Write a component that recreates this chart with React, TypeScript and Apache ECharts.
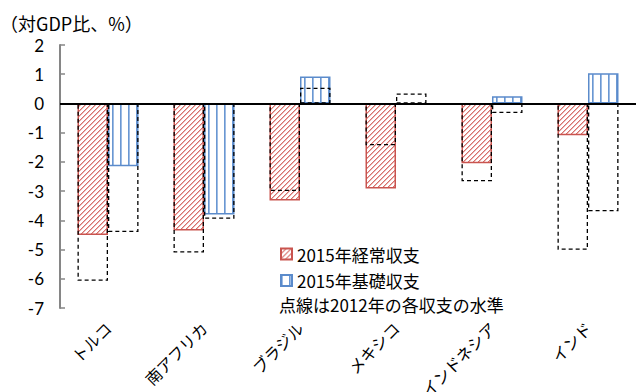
import React, { useEffect, useRef } from 'react';
import * as echarts from 'echarts';

const categories = ['トルコ', '南アフリカ', 'ブラジル', 'メキシコ', 'インドネシア', 'インド'];
const current2015 = [-4.5, -4.35, -3.32, -2.91, -2.05, -1.09];
const basic2015 = [-2.15, -3.8, 0.92, -0.05, 0.25, 1.03];
const current2012 = [-6.07, -5.1, -3.0, -1.43, -2.66, -5.01];
const basic2012 = [-4.4, -3.95, 0.54, 0.34, -0.33, -3.69];

const seriesNames = ['2015年経常収支', '2015年基礎収支'];
const unitLabel = '（対GDP比、%）';
const noteLabel = '点線は2012年の各収支の水準';
const yMin = -7;
const yMax = 2;
const yInterval = 1;

const JP = '"Noto Sans CJK JP", "Noto Sans", sans-serif';

function hatchTile(): HTMLCanvasElement {
  const n = 5;
  const c = document.createElement('canvas');
  c.width = n;
  c.height = n;
  const ctx = c.getContext('2d')!;
  ctx.fillStyle = '#ffffff';
  ctx.fillRect(0, 0, n, n);
  for (let x = 0; x < n; x++) {
    const y = n - 1 - x;
    ctx.fillStyle = '#D6726E';
    ctx.fillRect(x, y, 1, 1);
    ctx.fillStyle = '#EDB3B0';
    ctx.fillRect(x, (y + 1) % n, 1, 1);
  }
  return c;
}

function stripeTile(): HTMLCanvasElement {
  const w = 8;
  const h = 4;
  const c = document.createElement('canvas');
  c.width = w;
  c.height = h;
  const ctx = c.getContext('2d')!;
  ctx.fillStyle = '#ffffff';
  ctx.fillRect(0, 0, w, h);
  ctx.fillStyle = '#6A97D2';
  ctx.fillRect(0, 0, 1, h);
  ctx.fillStyle = '#9DBBE3';
  ctx.fillRect(1, 0, 1, h);
  return c;
}

export default function App() {
  const ref = useRef<HTMLDivElement>(null);

  useEffect(() => {
    if (!ref.current) return;
    const chart = echarts.init(ref.current, null, { renderer: 'svg' });
    const hatch = hatchTile();
    const stripes = stripeTile();
    const barW = 30.5;

    const dashedStyle = {
      color: 'rgba(0,0,0,0)',
      borderColor: '#000000',
      borderWidth: 1.3,
      borderType: [4, 3] as any,
    };

    chart.setOption({
      animation: false,
      backgroundColor: '#ffffff',
      grid: { left: 60, right: 0, top: 45, bottom: 84, containLabel: false, outerBoundsMode: 'none' } as any,
      legend: {
        orient: 'vertical',
        left: 275,
        top: 240,
        icon: 'rect',
        itemWidth: 11,
        itemHeight: 11,
        itemGap: 8.5,
        data: seriesNames,
        textStyle: { fontSize: 17, lineHeight: 18, fontFamily: JP, color: '#000' },
        selectedMode: false,
      },
      graphic: [
        {
          type: 'text',
          x: 0,
          y: 23,
          style: { text: unitLabel, fontSize: 18, fontFamily: JP, fill: '#000', verticalAlign: 'middle' },
        },
        {
          type: 'text',
          x: 279,
          y: 304,
          style: { text: noteLabel, fontSize: 17, lineHeight: 18, fontFamily: JP, fill: '#000', verticalAlign: 'middle' },
        },
      ],
      xAxis: [
        {
          type: 'category',
          data: categories,
          axisLine: { show: false },
          axisTick: { show: false },
          axisLabel: {
            interval: 0,
            rotate: 45,
            margin: 17,
            fontSize: 16,
            fontFamily: JP,
            color: '#000',
          },
        },
        {
          type: 'category',
          data: categories,
          show: false,
        },
      ],
      yAxis: {
        type: 'value',
        min: yMin,
        max: yMax,
        interval: yInterval,
        axisLine: { show: true, lineStyle: { color: '#868686', width: 2 } },
        axisTick: { show: true, inside: true, length: 5, lineStyle: { color: '#868686', width: 1.5 } },
        splitLine: { show: false },
        axisLabel: { fontSize: 17, fontFamily: 'Lato, "Noto Sans", sans-serif', color: '#000', margin: 16 },
      },
      series: [
        {
          name: seriesNames[0],
          type: 'bar',
          xAxisIndex: 0,
          data: current2015,
          barWidth: barW,
          barGap: 0,
          itemStyle: {
            color: { image: hatch, repeat: 'repeat', imageWidth: 5, imageHeight: 5 } as any,
            borderColor: '#C9544F',
            borderWidth: 1.5,
          },
          z: 2,
        },
        {
          name: seriesNames[1],
          type: 'bar',
          xAxisIndex: 0,
          data: basic2015,
          barWidth: barW,
          barGap: 0,
          itemStyle: {
            color: { image: stripes, repeat: 'repeat', imageWidth: 8, imageHeight: 4 } as any,
            borderColor: '#5B8BCB',
            borderWidth: 1.5,
          },
          z: 2,
        },
        {
          name: '2012年経常収支',
          type: 'bar',
          xAxisIndex: 1,
          data: current2012,
          barWidth: barW,
          barGap: 0,
          itemStyle: dashedStyle,
          z: 3,
        },
        {
          name: '2012年基礎収支',
          type: 'bar',
          xAxisIndex: 1,
          data: basic2012,
          barWidth: barW,
          barGap: 0,
          itemStyle: dashedStyle,
          z: 3,
          markLine: {
            silent: true,
            symbol: ['none', 'none'],
            label: { show: false },
            lineStyle: { color: '#000000', width: 2, type: 'solid' },
            data: [{ yAxis: 0 }],
          },
        },
      ],
    });

    return () => chart.dispose();
  }, []);

  return (
    <div
      ref={ref}
      style={{ position: 'absolute', left: 0, top: 0, width: 636, height: 392 }}
    />
  );
}
